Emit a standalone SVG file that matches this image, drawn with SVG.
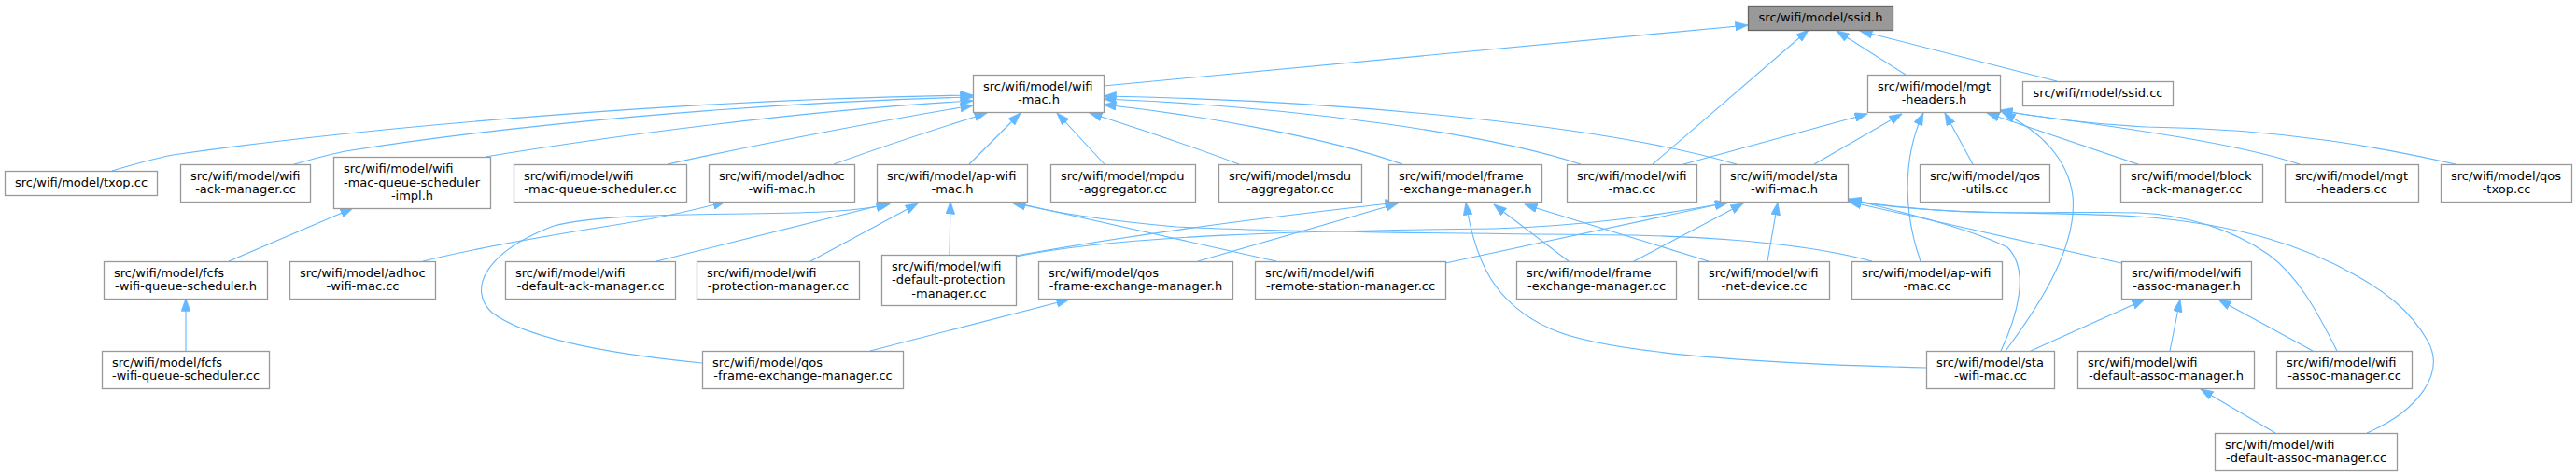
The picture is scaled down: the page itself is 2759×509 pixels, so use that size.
<svg xmlns="http://www.w3.org/2000/svg" width="2759" height="509" viewBox="0 0 2759 509">
<style>
.node rect{fill:#ffffff;stroke:#999999;stroke-width:1.3}
.cur rect{fill:#999999;stroke:#666666;stroke-width:1.3}
text{font-family:"DejaVu Sans","Noto Sans",sans-serif;font-size:13px;fill:#000000}
.m{text-anchor:middle}
.s{text-anchor:start}
.edges path{fill:none;stroke:#63b8ff;stroke-width:1.1;marker-end:url(#ah)}
</style>
<defs>
<marker id="ah" markerUnits="userSpaceOnUse" markerWidth="14" markerHeight="10" viewBox="0 0 14 10" refX="13.5" refY="5" orient="auto">
<path d="M0,0 L14,5 L0,10 z" fill="#63b8ff" stroke="#63b8ff" stroke-width="0.5"/>
</marker>
</defs>
<rect x="0" y="0" width="2759" height="509" fill="#ffffff"/>
<g class="edges">
<path d="M1182,92 L1872,27"/>
<path d="M1770,176 L1937,32"/>
<path d="M2041,80 L1967,33"/>
<path d="M2203,87 L1992,33"/>
<path d="M120,183 C150,174 170,169 185,166 C400,135 750,106 1042,102"/>
<path d="M315,176 C340,169 355,165 370,162 C540,135 800,110 1042,104"/>
<path d="M520,168 C640,148 860,118 1042,108"/>
<path d="M715,176 C800,157 950,128 1042,113"/>
<path d="M893,176 C950,155 1010,136 1057,121"/>
<path d="M1038,176 L1093,121"/>
<path d="M1183,176 L1132,121"/>
<path d="M1327,176 C1280,158 1220,138 1167,121"/>
<path d="M1502,176 C1430,150 1300,125 1182,112"/>
<path d="M1693,176 C1600,145 1400,115 1182,106"/>
<path d="M1860,176 C1720,135 1450,108 1182,103"/>
<path d="M1803,176 L2000,122"/>
<path d="M1943,176 L2037,122"/>
<path d="M2057,280 C2040,232 2036,172 2060,121"/>
<path d="M2113,176 L2083,121"/>
<path d="M2148,376 C2190,320 2225,260 2220,210 C2215,170 2185,140 2145,121"/>
<path d="M2290,176 L2128,121"/>
<path d="M2463,176 C2400,155 2300,140 2142,119"/>
<path d="M2630,176 C2560,160 2450,138 2300,136 C2240,133 2190,127 2142,118"/>
<path d="M1548,282 L1850,217"/>
<path d="M1088,275 C1200,252 1400,247 1600,245 C1700,242 1780,230 1851,217"/>
<path d="M1750,280 L1867,218"/>
<path d="M1893,280 L1904,217"/>
<path d="M2143,376 C2160,340 2175,290 2150,265 C2110,245 2040,228 1980,213"/>
<path d="M2272,282 L1980,216"/>
<path d="M2503,376 C2480,330 2460,295 2430,273 C2390,245 2340,230 2290,228 C2200,225 2100,235 1980,214"/>
<path d="M2535,464 C2590,440 2620,400 2600,365 C2580,330 2550,310 2523,295 C2470,265 2400,240 2290,232 C2200,226 2080,232 1980,215"/>
<path d="M1088,274 C1250,245 1400,228 1497,217"/>
<path d="M1283,280 L1497,218"/>
<path d="M2063,394 C1900,390 1720,380 1660,352 C1600,325 1580,280 1570,217"/>
<path d="M1680,280 L1600,219"/>
<path d="M1830,280 L1633,219"/>
<path d="M703,280 L955,217"/>
<path d="M752,389 C640,378 560,360 527,335 C500,310 520,270 593,242 C630,232 700,230 800,229 C880,228 920,226 952,219"/>
<path d="M868,280 L983,218"/>
<path d="M1017,273 L1018,216"/>
<path d="M1367,280 L1082,216"/>
<path d="M2005,280 C1950,265 1870,255 1750,252 C1550,250 1350,248 1260,243 C1180,236 1120,226 1085,217"/>
<path d="M245,280 L378,223"/>
<path d="M199,376 L199,320"/>
<path d="M453,280 C500,268 560,257 640,244 C700,235 745,225 777,216"/>
<path d="M932,376 L1145,321"/>
<path d="M2175,376 L2297,321"/>
<path d="M2324,376 L2335,321"/>
<path d="M2477,376 L2376,321"/>
<path d="M2437,464 L2357,417"/>
</g>
<g id="ssid_h" class="cur"><rect x="1872.5" y="6.5" width="155" height="26"/><text class="m" x="1950" y="23">src/wifi/model/ssid.h</text></g>
<g id="wifi_mac_h" class="node"><rect x="1042.5" y="80.5" width="140" height="40"/><text class="s" x="1053" y="97">src/wifi/model/wifi</text><text class="m" x="1112.5" y="111">-mac.h</text></g>
<g id="mgt_headers_h" class="node"><rect x="2000.5" y="80.5" width="142" height="40"/><text class="s" x="2011" y="97">src/wifi/model/mgt</text><text class="m" x="2071.5" y="111">-headers.h</text></g>
<g id="ssid_cc" class="node"><rect x="2166.5" y="87.5" width="161" height="26"/><text class="m" x="2247" y="104">src/wifi/model/ssid.cc</text></g>
<g id="txop_cc" class="node"><rect x="5.5" y="183.5" width="163" height="26"/><text class="m" x="87" y="200">src/wifi/model/txop.cc</text></g>
<g id="wifi_ack_manager_cc" class="node"><rect x="193.5" y="176.5" width="139" height="40"/><text class="s" x="204" y="193">src/wifi/model/wifi</text><text class="m" x="263" y="207">-ack-manager.cc</text></g>
<g id="wifi_mac_queue_scheduler_impl_h" class="node"><rect x="357.5" y="168.5" width="168" height="55"/><text class="s" x="368" y="185">src/wifi/model/wifi</text><text class="s" x="368" y="199.5">-mac-queue-scheduler</text><text class="m" x="441.5" y="214">-impl.h</text></g>
<g id="wifi_mac_queue_scheduler_cc" class="node"><rect x="550.5" y="176.5" width="185" height="40"/><text class="s" x="561" y="193">src/wifi/model/wifi</text><text class="m" x="643" y="207">-mac-queue-scheduler.cc</text></g>
<g id="adhoc_wifi_mac_h" class="node"><rect x="759.5" y="176.5" width="156" height="40"/><text class="s" x="770" y="193">src/wifi/model/adhoc</text><text class="m" x="837.5" y="207">-wifi-mac.h</text></g>
<g id="ap_wifi_mac_h" class="node"><rect x="939.5" y="176.5" width="161" height="40"/><text class="s" x="950" y="193">src/wifi/model/ap-wifi</text><text class="m" x="1020" y="207">-mac.h</text></g>
<g id="mpdu_aggregator_cc" class="node"><rect x="1125.5" y="176.5" width="155" height="40"/><text class="s" x="1136" y="193">src/wifi/model/mpdu</text><text class="m" x="1203" y="207">-aggregator.cc</text></g>
<g id="msdu_aggregator_cc" class="node"><rect x="1305.5" y="176.5" width="153" height="40"/><text class="s" x="1316" y="193">src/wifi/model/msdu</text><text class="m" x="1382" y="207">-aggregator.cc</text></g>
<g id="frame_exchange_manager_h" class="node"><rect x="1487.5" y="176.5" width="164" height="40"/><text class="s" x="1498" y="193">src/wifi/model/frame</text><text class="m" x="1569.5" y="207">-exchange-manager.h</text></g>
<g id="wifi_mac_cc" class="node"><rect x="1678.5" y="176.5" width="139" height="40"/><text class="s" x="1689" y="193">src/wifi/model/wifi</text><text class="m" x="1748" y="207">-mac.cc</text></g>
<g id="sta_wifi_mac_h" class="node"><rect x="1842.5" y="176.5" width="137" height="40"/><text class="s" x="1853" y="193">src/wifi/model/sta</text><text class="m" x="1911" y="207">-wifi-mac.h</text></g>
<g id="qos_utils_cc" class="node"><rect x="2056.5" y="176.5" width="139" height="40"/><text class="s" x="2067" y="193">src/wifi/model/qos</text><text class="m" x="2126" y="207">-utils.cc</text></g>
<g id="block_ack_manager_cc" class="node"><rect x="2271.5" y="176.5" width="152" height="40"/><text class="s" x="2282" y="193">src/wifi/model/block</text><text class="m" x="2347.5" y="207">-ack-manager.cc</text></g>
<g id="mgt_headers_cc" class="node"><rect x="2447.5" y="176.5" width="143" height="40"/><text class="s" x="2458" y="193">src/wifi/model/mgt</text><text class="m" x="2519" y="207">-headers.cc</text></g>
<g id="qos_txop_cc" class="node"><rect x="2614.5" y="176.5" width="140" height="40"/><text class="s" x="2625" y="193">src/wifi/model/qos</text><text class="m" x="2684.5" y="207">-txop.cc</text></g>
<g id="fcfs_wifi_queue_scheduler_h" class="node"><rect x="111.5" y="280.5" width="175" height="40"/><text class="s" x="122" y="297">src/wifi/model/fcfs</text><text class="m" x="199" y="311">-wifi-queue-scheduler.h</text></g>
<g id="adhoc_wifi_mac_cc" class="node"><rect x="310.5" y="280.5" width="156" height="40"/><text class="s" x="321" y="297">src/wifi/model/adhoc</text><text class="m" x="388.5" y="311">-wifi-mac.cc</text></g>
<g id="wifi_default_ack_manager_cc" class="node"><rect x="541.5" y="280.5" width="182" height="40"/><text class="s" x="552" y="297">src/wifi/model/wifi</text><text class="m" x="632.5" y="311">-default-ack-manager.cc</text></g>
<g id="wifi_protection_manager_cc" class="node"><rect x="746.5" y="280.5" width="174" height="40"/><text class="s" x="757" y="297">src/wifi/model/wifi</text><text class="m" x="833.5" y="311">-protection-manager.cc</text></g>
<g id="wifi_default_protection_manager_cc" class="node"><rect x="944.5" y="273.5" width="144" height="54"/><text class="s" x="955" y="289.5">src/wifi/model/wifi</text><text class="s" x="955" y="304">-default-protection</text><text class="m" x="1016.5" y="318.5">-manager.cc</text></g>
<g id="qos_frame_exchange_manager_h" class="node"><rect x="1112.5" y="280.5" width="208" height="40"/><text class="s" x="1123" y="297">src/wifi/model/qos</text><text class="m" x="1216.5" y="311">-frame-exchange-manager.h</text></g>
<g id="wifi_remote_station_manager_cc" class="node"><rect x="1344.5" y="280.5" width="204" height="40"/><text class="s" x="1355" y="297">src/wifi/model/wifi</text><text class="m" x="1446.5" y="311">-remote-station-manager.cc</text></g>
<g id="frame_exchange_manager_cc" class="node"><rect x="1624.5" y="280.5" width="171" height="40"/><text class="s" x="1635" y="297">src/wifi/model/frame</text><text class="m" x="1710" y="311">-exchange-manager.cc</text></g>
<g id="wifi_net_device_cc" class="node"><rect x="1819.5" y="280.5" width="140" height="40"/><text class="s" x="1830" y="297">src/wifi/model/wifi</text><text class="m" x="1889.5" y="311">-net-device.cc</text></g>
<g id="ap_wifi_mac_cc" class="node"><rect x="1983.5" y="280.5" width="161" height="40"/><text class="s" x="1994" y="297">src/wifi/model/ap-wifi</text><text class="m" x="2064" y="311">-mac.cc</text></g>
<g id="wifi_assoc_manager_h" class="node"><rect x="2272.5" y="280.5" width="139" height="40"/><text class="s" x="2283" y="297">src/wifi/model/wifi</text><text class="m" x="2342" y="311">-assoc-manager.h</text></g>
<g id="fcfs_wifi_queue_scheduler_cc" class="node"><rect x="109.5" y="376.5" width="179" height="40"/><text class="s" x="120" y="393">src/wifi/model/fcfs</text><text class="m" x="199" y="407">-wifi-queue-scheduler.cc</text></g>
<g id="qos_frame_exchange_manager_cc" class="node"><rect x="752.5" y="376.5" width="215" height="40"/><text class="s" x="763" y="393">src/wifi/model/qos</text><text class="m" x="860" y="407">-frame-exchange-manager.cc</text></g>
<g id="sta_wifi_mac_cc" class="node"><rect x="2063.5" y="376.5" width="137" height="40"/><text class="s" x="2074" y="393">src/wifi/model/sta</text><text class="m" x="2132" y="407">-wifi-mac.cc</text></g>
<g id="wifi_default_assoc_manager_h" class="node"><rect x="2225.5" y="376.5" width="189" height="40"/><text class="s" x="2236" y="393">src/wifi/model/wifi</text><text class="m" x="2320" y="407">-default-assoc-manager.h</text></g>
<g id="wifi_assoc_manager_cc" class="node"><rect x="2438.5" y="376.5" width="145" height="40"/><text class="s" x="2449" y="393">src/wifi/model/wifi</text><text class="m" x="2511" y="407">-assoc-manager.cc</text></g>
<g id="wifi_default_assoc_manager_cc" class="node"><rect x="2372.5" y="464.5" width="195" height="40"/><text class="s" x="2383" y="481">src/wifi/model/wifi</text><text class="m" x="2470" y="495">-default-assoc-manager.cc</text></g>
</svg>
